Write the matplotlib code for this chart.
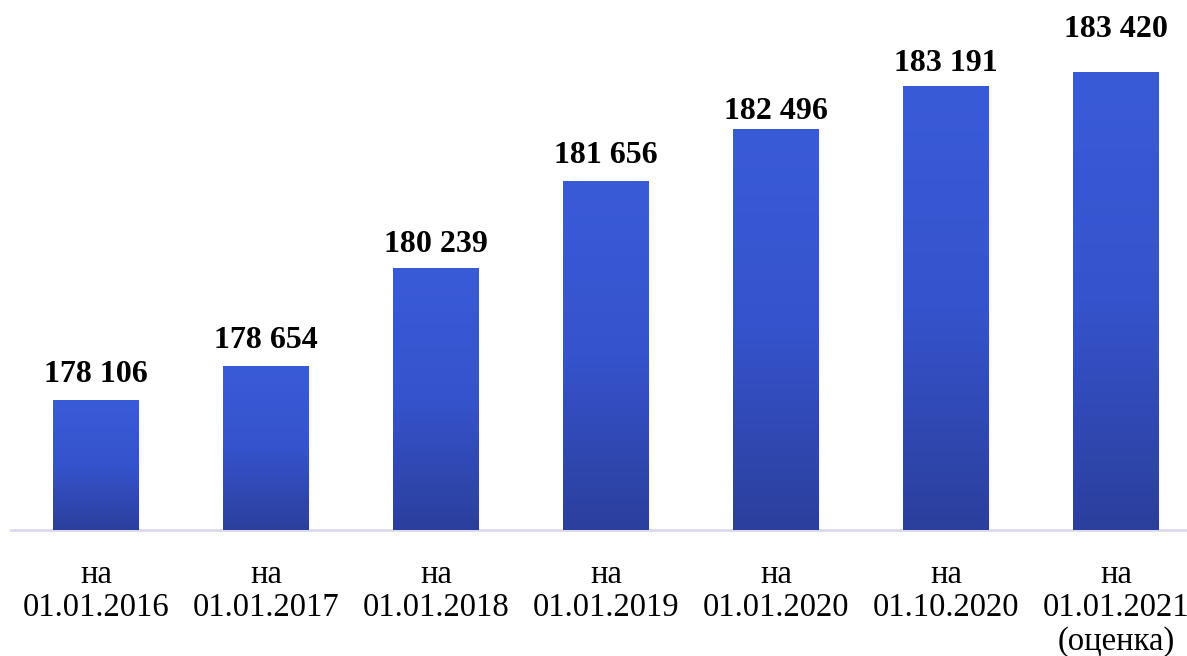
import numpy as np
import matplotlib
matplotlib.use('Agg')
import matplotlib.pyplot as plt
from matplotlib.colors import LinearSegmentedColormap
import matplotlib.patheffects as pe

categories = ['на\n01.01.2016', 'на\n01.01.2017', 'на\n01.01.2018', 'на\n01.01.2019',
              'на\n01.01.2020', 'на\n01.10.2020', 'на\n01.01.2021\n(оценка)']
values = [178106, 178654, 180239, 181656, 182496, 183191, 183420]
value_labels = ['178 106', '178 654', '180 239', '181 656', '182 496', '183 191', '183 420']
# label gaps above bars (points), placed by hand in the original
label_gap = [8, 8, 7, 8, 2, 6, 20]

plt.rcParams['font.family'] = ['Liberation Serif', 'DejaVu Serif']

fig = plt.figure(figsize=(11.87, 6.56), dpi=100)
ax = fig.add_axes([11 / 1187, 1 - 530 / 656, 1 - 11 / 1187, 530 / 656])

x = np.arange(len(values))
width = 86 / 170
ymin, ymax = 176000, 184590

bars = ax.bar(x, [v - ymin for v in values], width, bottom=ymin, color='#3450c8', zorder=2,
              path_effects=[pe.SimplePatchShadow(offset=(0, -2), shadow_rgbFace='#999999', alpha=0.35),
                            pe.Normal()])

# vertical gradient for each bar
cmap = LinearSegmentedColormap.from_list('g', ['#2b3f9c', '#3553cc', '#3a5bd8'])
grad = np.linspace(0, 1, 256).reshape(-1, 1)
for b in bars:
    x0, y0 = b.get_x(), b.get_y()
    w, h = b.get_width(), b.get_height()
    ax.imshow(grad, cmap=cmap, extent=(x0, x0 + w, y0, y0 + h), origin='lower',
              aspect='auto', zorder=3, interpolation='bicubic')

for xi, v, lab, g in zip(x, values, value_labels, label_gap):
    ax.annotate(lab, (xi, v), xytext=(0, g), textcoords='offset points',
                ha='center', va='bottom', fontsize=23, fontweight='bold', zorder=4)

ax.set_xlim(-0.5, (1187 - 96) / 170)
ax.set_ylim(ymin, ymax)
ax.set_xticks(x)
ax.set_xticklabels(categories, fontsize=23.5, linespacing=1.12)
ax.tick_params(axis='x', length=0, pad=21)
ax.set_yticks([])
for s in ['top', 'right', 'left']:
    ax.spines[s].set_visible(False)
ax.spines['bottom'].set_color('#d9d9ec')
ax.spines['bottom'].set_linewidth(2)
ax.patch.set_alpha(0)

fig.savefig('out.png', dpi=100)
